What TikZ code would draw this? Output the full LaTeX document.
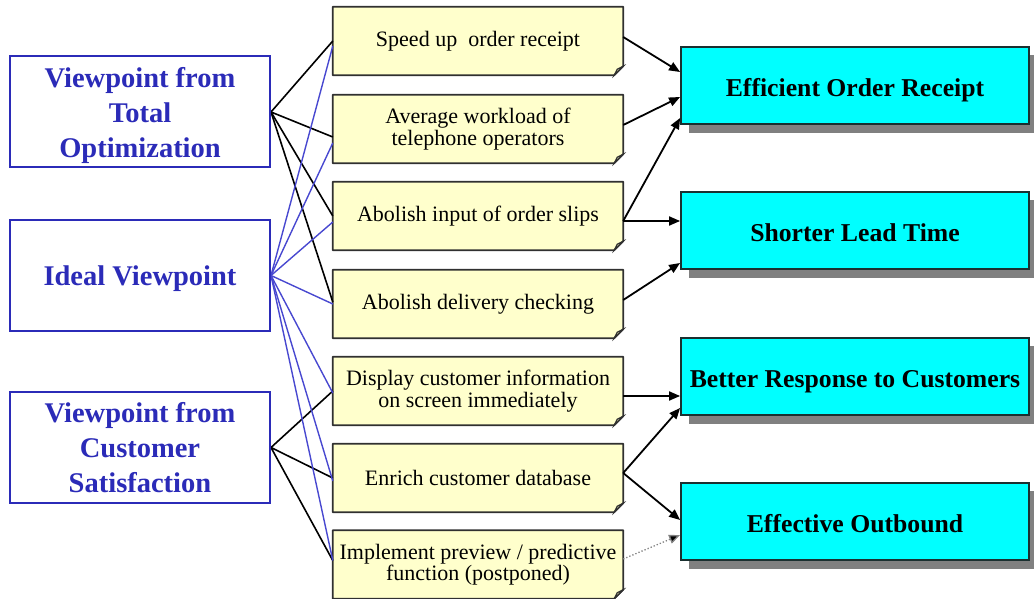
\documentclass[tikz,border=0pt]{standalone}
\usepackage{fontspec}
\setmainfont{Liberation Serif}
\usetikzlibrary{arrows.meta,backgrounds}
\definecolor{vpblue}{HTML}{2B2BB8}
\definecolor{vpline}{HTML}{4848D0}
\definecolor{notefill}{HTML}{FFFFCC}
\definecolor{noteedge}{HTML}{303030}
\definecolor{goalfill}{HTML}{00FFFF}
\definecolor{goaledge}{HTML}{1A3030}
\definecolor{dropgray}{HTML}{808080}
\tikzset{
  viewbox/.style={draw=vpblue, line width=2pt, fill=white, minimum width=260pt,
    minimum height=111pt, align=center, text=vpblue,
    font=\fontsize{28.5}{35}\selectfont\bfseries, inner sep=0pt},
  notebox/.style={minimum width=290pt, minimum height=68pt, align=center,
    font=\fontsize{22}{21.5}\selectfont, inner sep=0pt},
  goalbox/.style={draw=goaledge, line width=1.8pt, fill=goalfill, minimum width=348pt,
    minimum height=77pt, text height=22pt, text depth=0pt,
    font=\fontsize{25.7}{30}\selectfont\bfseries, inner sep=0pt},
  tie/.style={line width=1.6pt, black},
  bluetie/.style={line width=1.4pt, vpline},
  flow/.style={line width=1.8pt, black, -{Triangle[length=11pt,width=9pt]}},
  weakflow/.style={line width=1.3pt, dropgray, dotted, -{Triangle[length=11pt,width=9pt,fill=black]}},
}
% centred text block pushed down by half of the given space
\newcommand{\lowblock}[2]{\parbox{250pt}{\centering\vspace*{#1}#2}}
\begin{document}
\begin{tikzpicture}[x=1pt,y=-1pt]
\path[use as bounding box] (0,0) rectangle (1034,599);

% viewpoints
\node[viewbox] (v1) at (140,112) {\lowblock{8pt}{Viewpoint from\\Total\\Optimization}};
\node[viewbox] (v2) at (140,275.5) {\lowblock{7pt}{Ideal Viewpoint}};
\node[viewbox] (v3) at (140,447.5) {\lowblock{0pt}{Viewpoint from\\Customer\\Satisfaction}};

% measures (note boxes)
\node[notebox] (m1) at (478,41) {Speed up\ \ order receipt};
\node[notebox] (m2) at (478,129) {Average\ workload\ of\\telephone\ operators};
\node[notebox] (m3) at (478,216) {Abolish\ input of order slips};
\node[notebox] (m4) at (478,304) {Abolish\ delivery\ checking};
\node[notebox] (m5) at (478,391) {Display\ customer\ information\\on\ screen\ immediately};
\node[notebox] (m6) at (478,478) {Enrich\ customer\ database};
\node[notebox] (m7) at (478,564.5) {Implement preview / predictive\\function (postponed)};

% note outlines with folded corner
\begin{scope}[on background layer]
\foreach \m in {m1,m2,m3,m4,m5,m6,m7}{
  \draw[noteedge, line width=1.8pt, fill=notefill, line join=round]
    (\m.north west) -- (\m.north east) -- ([yshift=9pt]\m.south east)
    -- ([xshift=-9pt]\m.south east) -- (\m.south west) -- cycle;
  \draw[noteedge, line width=1.2pt, fill=notefill!70!black!60!notefill]
    ([yshift=9pt]\m.south east) -- ([xshift=-9pt]\m.south east)
    -- ([xshift=-6pt,yshift=6pt]\m.south east) -- cycle;
}
\end{scope}

% goals with drop shadow
\foreach \n/\y/\t in {r1/85.5/Efficient Order Receipt, r2/230.5/Shorter Lead Time,
                      r3/376.5/Better Response to Customers, r4/521.5/Effective Outbound}{
  \fill[dropgray] (689,\y-30.5) rectangle (1040,\y+47.5);
  \node[goalbox] (\n) at (855,\y) {\t};
}

% viewpoint links
\begin{scope}[on background layer]
\draw[tie] (v1.east) -- (m1.west);
\draw[tie] (v1.east) -- ([yshift=-8pt]m2.west);
\draw[tie] (v1.east) -- (m3.west);
\draw[tie] (v1.east) -- ([yshift=2pt]m4.west);
\draw[tie] (v3.east) -- (m5.west);
\draw[tie] (v3.east) -- (m6.west);
\draw[tie] (v3.east) -- ([yshift=4pt]m7.west);
\draw[bluetie] (v2.east) -- ([yshift=-5pt]m1.west);
\draw[bluetie] (v2.east) -- ([yshift=-14pt]m2.west);
\draw[bluetie] (v2.east) -- ([yshift=-6pt]m3.west);
\draw[bluetie] (v2.east) -- (m4.west);
\draw[bluetie] (v2.east) -- ([yshift=-2pt]m5.west);
\draw[bluetie] (v2.east) -- ([yshift=-3pt]m6.west);
\draw[bluetie] (v2.east) -- ([yshift=4pt]m7.west);
\end{scope}

% effects
\draw[flow] ([yshift=4pt]m1.east) -- ([yshift=13.5pt]r1.west);
\draw[flow] ([yshift=4pt]m2.east) -- ([yshift=-11.5pt]r1.west);
\draw[flow] ([yshift=-5pt]m3.east) -- ([yshift=-32.5pt]r1.west);
\draw[flow] ([yshift=-5pt]m3.east) -- ([yshift=9.5pt]r2.west);
\draw[flow] ([yshift=4pt]m4.east) -- ([yshift=-32.5pt]r2.west);
\draw[flow] ([yshift=-5pt]m5.east) -- ([yshift=-19.5pt]r3.west);
\draw[flow] ([yshift=5pt]m6.east) -- ([yshift=-31.5pt]r3.west);
\draw[flow] ([yshift=5pt]m6.east) -- ([yshift=1.5pt]r4.west);
\draw[weakflow] ([yshift=5.5pt]m7.east) -- ([yshift=-13.5pt]r4.west);
\end{tikzpicture}
\end{document}
